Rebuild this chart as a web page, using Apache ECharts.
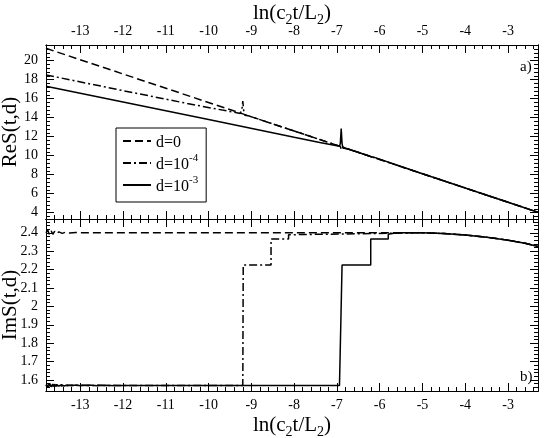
<!DOCTYPE html>
<html>
<head>
<meta charset="utf-8">
<script src="https://cdn.jsdelivr.net/npm/echarts@6/dist/echarts.min.js"></script>
<style>
html, body { margin: 0; padding: 0; background: #fff; }
#chart { width: 545px; height: 438px; }
</style>
</head>
<body>
<div id="chart"></div>
<script>
// axis ranges
var xMin = -13.8, xMax = -2.3;
var reMin = 3.34, reMax = 21.65;
var imMin = 1.54, imMax = 2.475;

// tick values
var xMajor = [-13, -12, -11, -10, -9, -8, -7, -6, -5, -4, -3];
var reMajor = [4, 6, 8, 10, 12, 14, 16, 18, 20];
var imMajor = [1.6, 1.7, 1.8, 1.9, 2, 2.1, 2.2, 2.3, 2.4];

var names = ['d=0', 'd=1e-4', 'd=1e-3'];

// ReS(t,d), top panel
var reD0 = [[-13.8, 21.3], [-9.2, 14.4], [-6.9, 10.95], [-2.3, 4.05]];
var reD4 = [[-13.8, 18.5], [-12, 16.85], [-10.5, 15.5], [-9.5, 14.65], [-9.26, 14.45],
    [-9.22, 14.9], [-9.2, 15.75], [-9.18, 14.8], [-9.15, 14.25], [-9.05, 14.17],
    [-8.9, 13.95], [-8.86, 14.1], [-8.8, 13.8], [-8.6, 13.5], [-8, 12.6],
    [-6.92, 10.98], [-6.9, 10.7], [-6.88, 10.92], [-6.2, 9.9], [-2.3, 4.05]];
var reD3 = [[-13.8, 17.3], [-12, 15.65], [-10, 13.8], [-8, 11.95], [-7.4, 11.4],
    [-7.0, 11.05], [-6.94, 11.0], [-6.92, 11.3], [-6.9, 12.85], [-6.88, 11.3],
    [-6.86, 10.8], [-6.84, 10.72], [-6.7, 10.65], [-6.3, 10.05], [-6.22, 9.9],
    [-6.2, 10.1], [-6.18, 9.7], [-6.14, 9.85], [-5, 8.1], [-2.3, 4.05]];

// ImS(t,d), bottom panel
var imD0 = [[-13.8, 2.40], [-13.76, 2.415], [-13.72, 2.39], [-13.68, 2.41], [-13.64, 2.392],
    [-13.6, 2.408], [-13.55, 2.395], [-13.5, 2.405], [-13.42, 2.397], [-13.35, 2.403],
    [-13.25, 2.399], [-13.1, 2.401], [-12, 2.40], [-5, 2.40], [-4.5, 2.396], [-4, 2.388],
    [-3.5, 2.376], [-3, 2.36], [-2.6, 2.343], [-2.3, 2.326]];
var imD4 = [[-13.8, 1.575], [-13.77, 1.56], [-13.74, 1.58], [-13.71, 1.562], [-13.68, 1.578],
    [-13.64, 1.565], [-13.6, 1.576], [-13.55, 1.566], [-13.5, 1.574], [-13.44, 1.567],
    [-13.38, 1.573], [-13.3, 1.568], [-13.2, 1.572], [-13.1, 1.569], [-13, 1.573],
    [-12.8, 1.568], [-12.6, 1.572], [-12.4, 1.569], [-12.2, 1.571], [-12, 1.57],
    [-9.2, 1.57], [-9.19, 2.225], [-8.54, 2.225], [-8.54, 2.366], [-8.13, 2.366],
    [-8.13, 2.39], [-7.96, 2.39], [-7.96, 2.40], [-5, 2.40], [-4.5, 2.396], [-4, 2.388],
    [-3.5, 2.376], [-3, 2.36], [-2.6, 2.343], [-2.3, 2.326]];
var imD3 = [[-13.8, 1.572], [-13.77, 1.582], [-13.74, 1.562], [-13.71, 1.58], [-13.68, 1.563],
    [-13.64, 1.577], [-13.6, 1.564], [-13.55, 1.575], [-13.5, 1.566], [-13.44, 1.574],
    [-13.38, 1.567], [-13.3, 1.573], [-13.2, 1.568], [-13.1, 1.572], [-13, 1.569],
    [-12.8, 1.572], [-12.6, 1.569], [-12.4, 1.571], [-12.2, 1.569], [-12, 1.57],
    [-6.94, 1.57], [-6.88, 2.225], [-6.21, 2.225], [-6.21, 2.366], [-5.8, 2.366],
    [-5.8, 2.392], [-5.6, 2.40], [-5, 2.40], [-4.5, 2.396], [-4, 2.388],
    [-3.5, 2.376], [-3, 2.36], [-2.6, 2.343], [-2.3, 2.326]];

function r3(v) { return Math.round(v * 1000) / 1000; }
var xMinor = [];
for (var i = -68; i <= -12; i++) { if (i % 5 !== 0) xMinor.push(r3(i / 5)); }
var reMinor = [];
for (var i = 9; i <= 53; i++) { if (i % 5 !== 0) reMinor.push(r3(i * 0.4)); }
var imMinor = [];
for (var i = 78; i <= 123; i++) { if (i % 5 !== 0) imMinor.push(r3(i * 0.02)); }

var font = 'Liberation Serif';
var black = '#000';

function xAxis(grid, pos, ticks, len, labels, name, gap) {
    return {
        type: 'value', gridIndex: grid, position: pos, min: xMin, max: xMax,
        axisLine: { show: true, onZero: false, lineStyle: { color: black, width: 1 } },
        axisTick: { show: true, inside: true, length: len, customValues: ticks, lineStyle: { color: black, width: 1 } },
        axisLabel: { show: labels, customValues: ticks, margin: 7, fontFamily: font, fontSize: 14, color: black },
        splitLine: { show: false },
        name: name || '', nameLocation: 'middle', nameGap: gap || 0, nameMoveOverlap: false,
        nameTextStyle: {
            fontFamily: font, fontSize: 21, color: black,
            rich: {
                a: { fontFamily: font, fontSize: 21, color: black, lineHeight: 28, verticalAlign: 'middle' },
                b: { fontFamily: font, fontSize: 14, color: black, lineHeight: 28, verticalAlign: 'bottom' }
            }
        }
    };
}
function yAxis(grid, pos, min, max, ticks, len, labels, name) {
    return {
        type: 'value', gridIndex: grid, position: pos, min: min, max: max,
        axisLine: { show: true, onZero: false, lineStyle: { color: black, width: 1 } },
        axisTick: { show: true, inside: true, length: len, customValues: ticks, lineStyle: { color: black, width: 1 } },
        axisLabel: { show: labels, customValues: ticks, margin: 8, fontFamily: font, fontSize: 14, color: black },
        splitLine: { show: false },
        name: name || '', nameLocation: 'middle', nameGap: 25, nameRotate: 90, nameMoveOverlap: false,
        nameTextStyle: { fontFamily: font, fontSize: 21, color: black }
    };
}

var xTitle = '{a|ln(c}{b|2}{a|t/L}{b|2}{a|)}';

function line(name, data, type, xi, yi) {
    return {
        name: name, type: 'line', data: data, xAxisIndex: xi, yAxisIndex: yi,
        symbol: 'none', showSymbol: false, animation: false, silent: true,
        itemStyle: { color: black },
        lineStyle: { color: black, width: 1.5, type: type }
    };
}
var dashD0 = [8, 4];
var dashD4 = [8, 3, 2, 3];

var chart = echarts.init(document.getElementById('chart'), null, { renderer: 'canvas' });
chart.setOption({
    backgroundColor: '#fff',
    animation: false,
    grid: [
        { left: 46, right: 7, top: 45, height: 174, outerBoundsMode: 'none' },
        { left: 46, right: 7, top: 219, height: 172, outerBoundsMode: 'none' }
    ],
    xAxis: [
        xAxis(0, 'top', xMajor, 8, true, xTitle, 18),
        xAxis(0, 'top', xMinor, 4, false),
        xAxis(0, 'bottom', xMajor, 8, false),
        xAxis(0, 'bottom', xMinor, 4, false),
        xAxis(1, 'top', xMajor, 8, false),
        xAxis(1, 'top', xMinor, 4, false),
        xAxis(1, 'bottom', xMajor, 8, true, xTitle, 20),
        xAxis(1, 'bottom', xMinor, 4, false)
    ],
    yAxis: [
        yAxis(0, 'left', reMin, reMax, reMajor, 8, true, 'ReS(t,d)'),
        yAxis(0, 'left', reMin, reMax, reMinor, 4, false),
        yAxis(0, 'right', reMin, reMax, reMajor, 8, false),
        yAxis(0, 'right', reMin, reMax, reMinor, 4, false),
        yAxis(1, 'left', imMin, imMax, imMajor, 8, true, 'ImS(t,d)'),
        yAxis(1, 'left', imMin, imMax, imMinor, 4, false),
        yAxis(1, 'right', imMin, imMax, imMajor, 8, false),
        yAxis(1, 'right', imMin, imMax, imMinor, 4, false)
    ],
    legend: {
        left: 116, top: 128, orient: 'vertical',
        itemWidth: 28, itemHeight: 14, itemGap: 2,
        padding: [7, 8, 7, 6],
        borderColor: black, borderWidth: 1,
        itemStyle: { opacity: 0 },
        data: names,
        formatter: function (n) {
            if (n === 'd=1e-4') return '{n|d=10}{s|-4}';
            if (n === 'd=1e-3') return '{n|d=10}{s|-3}';
            return '{n|' + n + '}';
        },
        textStyle: {
            fontFamily: font, fontSize: 16, color: black,
            rich: {
                n: { fontFamily: font, fontSize: 16, color: black, lineHeight: 20, verticalAlign: 'bottom' },
                s: { fontFamily: font, fontSize: 11, color: black, lineHeight: 12, verticalAlign: 'top' }
            }
        }
    },
    graphic: [
        { type: 'text', left: 520, top: 60, style: { text: 'a)', font: '15px "Liberation Serif"', fill: black } },
        { type: 'text', left: 520, top: 370, style: { text: 'b)', font: '15px "Liberation Serif"', fill: black } }
    ],
    series: [
        line(names[0], reD0, dashD0, 0, 0),
        line(names[1], reD4, dashD4, 0, 0),
        line(names[2], reD3, 'solid', 0, 0),
        line(names[0], imD0, dashD0, 6, 4),
        line(names[1], imD4, dashD4, 6, 4),
        line(names[2], imD3, 'solid', 6, 4)
    ]
});
</script>
</body>
</html>
